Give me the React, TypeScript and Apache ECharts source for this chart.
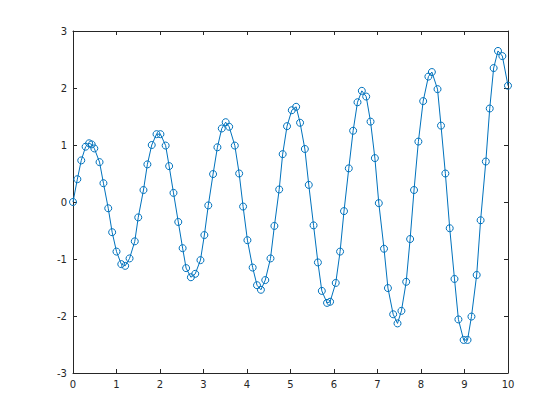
import React, { useEffect, useRef } from "react";
import * as echarts from "echarts";

const xValues = [0, 0.10, 0.19, 0.29, 0.37, 0.43, 0.49, 0.61, 0.70, 0.81, 0.90, 1.00, 1.11, 1.20, 1.30, 1.42, 1.50, 1.62, 1.71, 1.81, 1.92, 2.01, 2.13, 2.21, 2.31, 2.42, 2.52, 2.60, 2.71, 2.81, 2.93, 3.02, 3.11, 3.22, 3.32, 3.42, 3.51, 3.59, 3.72, 3.82, 3.91, 4.01, 4.13, 4.23, 4.32, 4.42, 4.54, 4.63, 4.74, 4.82, 4.92, 5.03, 5.13, 5.22, 5.33, 5.42, 5.53, 5.63, 5.72, 5.84, 5.91, 6.04, 6.14, 6.23, 6.34, 6.44, 6.54, 6.64, 6.74, 6.84, 6.94, 7.03, 7.15, 7.24, 7.36, 7.46, 7.55, 7.66, 7.75, 7.84, 7.94, 8.05, 8.17, 8.25, 8.38, 8.46, 8.56, 8.66, 8.77, 8.86, 8.98, 9.07, 9.16, 9.28, 9.37, 9.49, 9.58, 9.67, 9.77, 9.87, 10.0];

const yValues = [0, 0.40, 0.73, 0.97, 1.03, 1.01, 0.94, 0.70, 0.33, -0.11, -0.53, -0.87, -1.09, -1.12, -0.99, -0.69, -0.27, 0.21, 0.66, 1.00, 1.19, 1.19, 0.99, 0.63, 0.16, -0.35, -0.81, -1.16, -1.32, -1.26, -1.02, -0.58, -0.06, 0.49, 0.96, 1.29, 1.40, 1.32, 0.99, 0.50, -0.08, -0.67, -1.15, -1.46, -1.54, -1.37, -0.99, -0.42, 0.22, 0.84, 1.33, 1.61, 1.67, 1.39, 0.93, 0.30, -0.41, -1.06, -1.56, -1.77, -1.75, -1.42, -0.87, -0.16, 0.59, 1.25, 1.75, 1.95, 1.85, 1.41, 0.77, -0.02, -0.82, -1.51, -1.97, -2.13, -1.91, -1.40, -0.65, 0.21, 1.06, 1.77, 2.20, 2.28, 1.98, 1.34, 0.50, -0.46, -1.35, -2.06, -2.42, -2.42, -2.01, -1.28, -0.32, 0.71, 1.64, 2.35, 2.65, 2.56, 2.04];

const xTickMin = 0;
const xTickMax = 10;
const yTickMin = -3;
const yTickMax = 3;

const AXIS_COLOR = "#262626";
const LINE_COLOR = "#0072BD";

export default function App() {
  const ref = useRef<HTMLDivElement>(null);
  useEffect(() => {
    if (!ref.current) return;
    const chart = echarts.init(ref.current, undefined, { renderer: "svg" });
    const data = xValues.map((x, i) => [x, yValues[i]]);
    const axisCommon = {
      axisLine: { show: true, onZero: false, lineStyle: { color: AXIS_COLOR, width: 1 } },
      axisTick: { show: true, inside: true, length: 4, lineStyle: { color: AXIS_COLOR } },
      splitLine: { show: false },
    };
    chart.setOption({
      animation: false,
      backgroundColor: "#ffffff",
      grid: { left: 73, right: 52, top: 31, bottom: 47, containLabel: false },
      xAxis: [
        {
          type: "value", min: xTickMin, max: xTickMax, interval: 1, position: "bottom",
          ...axisCommon,
          axisLabel: { color: AXIS_COLOR, fontSize: 10, fontFamily: "DejaVu Sans", margin: 6 },
        },
        {
          type: "value", min: xTickMin, max: xTickMax, interval: 1, position: "top",
          ...axisCommon,
          axisLabel: { show: false },
        },
      ],
      yAxis: [
        {
          type: "value", min: yTickMin, max: yTickMax, interval: 1, position: "left",
          ...axisCommon,
          axisLabel: { color: AXIS_COLOR, fontSize: 10, fontFamily: "DejaVu Sans", margin: 6 },
        },
        {
          type: "value", min: yTickMin, max: yTickMax, interval: 1, position: "right",
          ...axisCommon,
          axisLabel: { show: false },
        },
      ],
      series: [
        {
          type: "line",
          data,
          xAxisIndex: 0,
          yAxisIndex: 0,
          symbol: "circle",
          symbolSize: 7,
          showAllSymbol: true,
          lineStyle: { color: LINE_COLOR, width: 1 },
          itemStyle: { color: "rgba(255,255,255,0)", borderColor: LINE_COLOR, borderWidth: 1 },
          clip: false,
        },
      ],
    });
    return () => chart.dispose();
  }, []);
  return (
    <div
      ref={ref}
      style={{ position: "fixed", left: 0, top: 0, width: 560, height: 420 }}
    />
  );
}
